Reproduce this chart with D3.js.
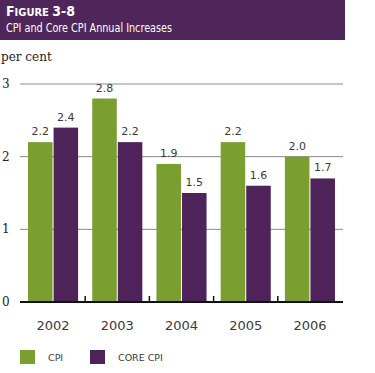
<!DOCTYPE html>
<html lang="en">
<head>
<meta charset="UTF-8">
<title>CPI and Core CPI Annual Increases</title>
<script src="https://d3js.org/d3.v7.min.js"></script>
<style>
    body { margin: 0; background: #fff; }
    svg { display: block; }
    .head { fill: #fff; font-family: "Liberation Sans Narrow", "DejaVu Sans Condensed", sans-serif; }
    .serif { font-family: "DejaVu Serif", "Liberation Serif", serif; fill: #222; }
    .lbl { font-family: "DejaVu Sans", sans-serif; fill: #3a3a3a; }
</style>
</head>
<body>
<div id="chart"></div>
<script>
    // Data
    const years = ["2002", "2003", "2004", "2005", "2006"];
    const series = ["CPI", "CORE CPI"];
    const cpi = [2.2, 2.8, 1.9, 2.2, 2.0];
    const coreCpi = [2.4, 2.2, 1.5, 1.6, 1.7];
    const yTicks = [0, 1, 2, 3];

    const colors = { "CPI": "#7a9e2f", "CORE CPI": "#4e2359" };
    const W = 375, H = 373;
    const plotLeft = 20, plotRight = 343, plotTop = 84, plotBottom = 302;

    const svg = d3.select("#chart").append("svg")
        .attr("width", W).attr("height", H);

    // header band
    svg.append("rect").attr("x", 0).attr("y", 0).attr("width", 345).attr("height", 40)
        .attr("fill", "#4f2659");
    const t1 = svg.append("text").attr("class", "head").attr("x", 6).attr("y", 16)
        .style("font-weight", "bold");
    t1.append("tspan").style("font-size", "14px").text("F");
    t1.append("tspan").style("font-size", "11px").text("IGURE ");
    t1.append("tspan").style("font-size", "14px").text("3-8");
    svg.append("text").attr("class", "head").attr("x", 6).attr("y", 32)
        .attr("textLength", 166).attr("lengthAdjust", "spacingAndGlyphs")
        .style("font-size", "12.5px").text("CPI and Core CPI Annual Increases");

    svg.append("text").attr("class", "serif").attr("x", 1).attr("y", 61)
        .style("font-size", "12px").text("per cent");

    // scales
    const y = d3.scaleLinear().domain([0, 3]).range([plotBottom, plotTop]);
    const x0 = d3.scaleBand().domain(years).range([plotLeft, plotRight])
        .paddingInner(0.22).paddingOuter(0.125);
    const x1 = d3.scaleBand().domain(series).range([0, x0.bandwidth()]).paddingInner(0.04);

    // gridlines
    svg.append("g").selectAll("line").data(yTicks.filter(d => d > 0)).join("line")
        .attr("x1", plotLeft).attr("x2", plotRight)
        .attr("y1", d => y(d)).attr("y2", d => y(d))
        .attr("stroke", "#8a8a8a").attr("stroke-width", 1);

    // y labels
    svg.append("g").selectAll("text").data(yTicks).join("text")
        .attr("class", "serif").attr("x", 2).attr("y", d => y(d) + 4)
        .style("font-size", "12px").text(d => d);

    // bars
    const rows = years.map((yr, i) => ({ year: yr, vals: [
        { key: "CPI", v: cpi[i] }, { key: "CORE CPI", v: coreCpi[i] }] }));

    const g = svg.append("g").selectAll("g").data(rows).join("g")
        .attr("transform", d => `translate(${x0(d.year)},0)`);
    g.selectAll("rect").data(d => d.vals).join("rect")
        .attr("x", d => x1(d.key)).attr("width", x1.bandwidth())
        .attr("y", d => y(d.v)).attr("height", d => plotBottom - y(d.v))
        .attr("fill", d => colors[d.key]);
    g.selectAll("text").data(d => d.vals).join("text")
        .attr("class", "lbl")
        .attr("x", d => x1(d.key) + x1.bandwidth() / 2)
        .attr("y", d => y(d.v) - 7)
        .attr("text-anchor", "middle")
        .style("font-size", "11px")
        .text(d => d.v.toFixed(1));

    // baseline + separators
    svg.append("line").attr("x1", plotLeft).attr("x2", plotRight)
        .attr("y1", plotBottom).attr("y2", plotBottom)
        .attr("stroke", "#111").attr("stroke-width", 2);
    svg.append("g").selectAll("line").data(years.slice(1)).join("line")
        .attr("x1", d => x0(d) - x0.step() * x0.paddingInner() / 2)
        .attr("x2", d => x0(d) - x0.step() * x0.paddingInner() / 2)
        .attr("y1", plotBottom).attr("y2", plotBottom - 6)
        .attr("stroke", "#111").attr("stroke-width", 1.5);

    // x labels
    svg.append("g").selectAll("text").data(years).join("text")
        .attr("class", "lbl")
        .attr("x", d => x0(d) + x0.bandwidth() / 2).attr("y", 330)
        .attr("text-anchor", "middle").style("font-size", "13px")
        .text(d => d);

    // legend
    const legX = [20, 90];
    const leg = svg.append("g").selectAll("g").data(series).join("g")
        .attr("transform", (d, i) => `translate(${legX[i]},350)`);
    leg.append("rect").attr("width", 15).attr("height", 14).attr("fill", d => colors[d]);
    leg.append("text").attr("class", "lbl").attr("x", 28).attr("y", 11)
        .style("font-size", "9.5px").text(d => d);
</script>
</body>
</html>
